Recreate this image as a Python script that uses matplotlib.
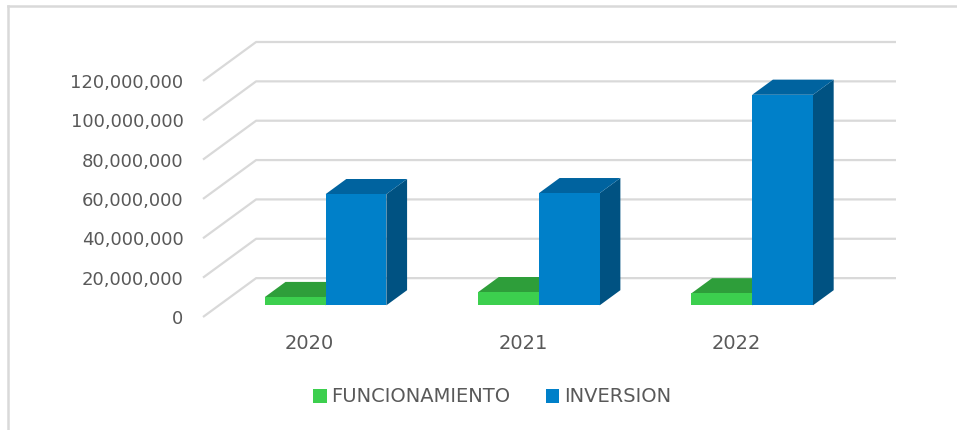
import numpy as np
import matplotlib
matplotlib.use("Agg")
import matplotlib.pyplot as plt
from matplotlib.patches import Polygon, Patch
from matplotlib.lines import Line2D
from matplotlib.ticker import FuncFormatter

# data
years = ["2020", "2021", "2022"]
funcionamiento = [4.2e6, 6.7e6, 6.1e6]
inversion = [56.5e6, 57.0e6, 107.0e6]
yticks = [0, 20e6, 40e6, 60e6, 80e6, 100e6, 120e6]

# colours: front, top, side
green = ("#3ccf4e", "#2e9e3a", "#24802e")
blue = ("#0080c9", "#00639f", "#005282")
grid_color = "#d9d9d9"
text_color = "#595959"

# oblique projection of the depth axis (in data units)
BACK_DX = 0.249
BACK_DY = 19.75e6
D0, D1 = 0.30, 0.69
width = 0.285

W, H = 957, 430
fig = plt.figure(figsize=(W / 100, H / 100), dpi=100)
ax = fig.add_axes([203 / W, (H - 317) / H, (896 - 203) / W, (317 - 42) / H])
ax.set_xlim(-0.5, len(years) - 0.5 + BACK_DX)
ax.set_ylim(0, yticks[-1] + BACK_DY)
for s in ax.spines.values():
    s.set_visible(False)

# gridlines: diagonal on the left wall, then horizontal on the back wall
for v in yticks:
    ax.plot([-0.5, -0.5 + BACK_DX, len(years) - 0.5 + BACK_DX],
            [v, v + BACK_DY, v + BACK_DY], color=grid_color, lw=1.6,
            zorder=1, solid_capstyle="butt", clip_on=False)


def box(xl, v, cols):
    sx, sy = D0 * BACK_DX, D0 * BACK_DY
    ddx, ddy = (D1 - D0) * BACK_DX, (D1 - D0) * BACK_DY
    x0, y0 = xl + sx, sy
    x1, y1 = x0 + width, y0 + v
    ax.add_patch(Polygon([(x1, y0), (x1 + ddx, y0 + ddy), (x1 + ddx, y1 + ddy), (x1, y1)],
                         closed=True, fc=cols[2], ec="none", zorder=3))
    ax.add_patch(Polygon([(x0, y1), (x1, y1), (x1 + ddx, y1 + ddy), (x0 + ddx, y1 + ddy)],
                         closed=True, fc=cols[1], ec="none", zorder=3))
    ax.bar(x0, v, width=width, bottom=y0, align="edge", color=cols[0],
           edgecolor="none", zorder=3)


for i in range(len(years)):
    box(i - width, funcionamiento[i], green)
    box(i, inversion[i], blue)

ax.set_yticks(yticks)
ax.yaxis.set_major_formatter(FuncFormatter(lambda v, p: f"{v:,.0f}"))
ax.set_xticks(range(len(years)))
ax.set_xticklabels(years)
ax.tick_params(axis="both", length=0, colors=text_color)
ax.tick_params(axis="y", pad=14, labelsize=13)
ax.tick_params(axis="x", pad=12, labelsize=14)

handles = [Patch(facecolor=green[0], label="FUNCIONAMIENTO"),
           Patch(facecolor=blue[0], label="INVERSION")]
leg = fig.legend(handles=handles, loc="center", bbox_to_anchor=(492 / W, (H - 397) / H),
                 ncol=2, frameon=False, fontsize=14, handlelength=0.7,
                 handleheight=0.7, handletextpad=0.25, columnspacing=1.8)
for t in leg.get_texts():
    t.set_color(text_color)

# chart border
fig.add_artist(Line2D([8 / W, 8 / W], [0, (H - 6) / H], color=grid_color, lw=1.8))
fig.add_artist(Line2D([8 / W, 1], [(H - 6) / H, (H - 6) / H], color=grid_color, lw=1.8))

fig.savefig("out.png", dpi=100)
